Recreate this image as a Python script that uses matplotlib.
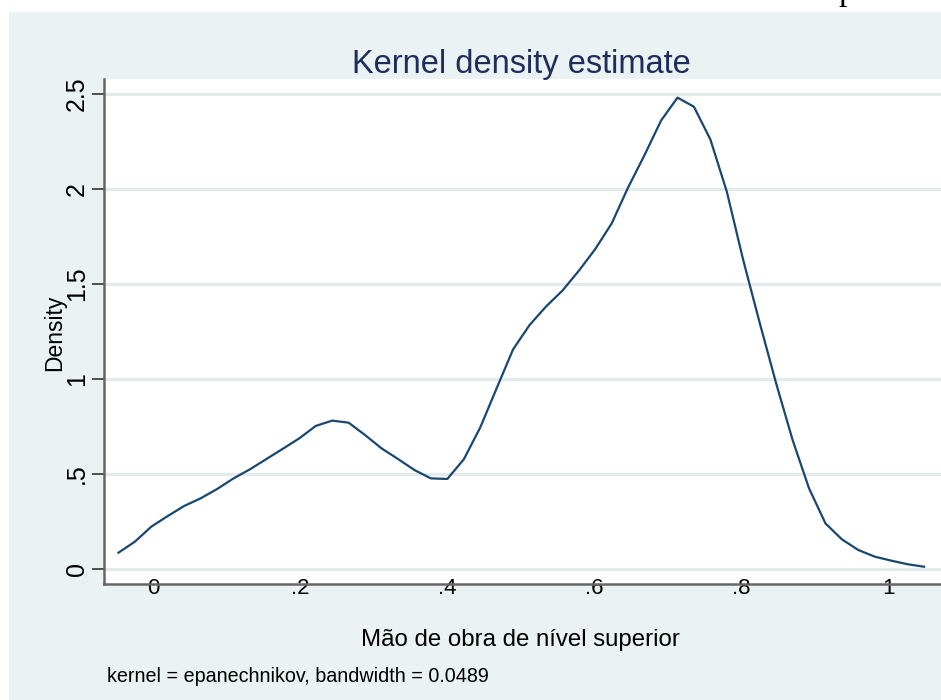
import matplotlib
matplotlib.use("Agg")
import matplotlib.pyplot as plt
from matplotlib.patches import Rectangle

plt.rcParams['font.family'] = ['Liberation Sans', 'DejaVu Sans']

# kernel density estimate, 50 evaluation points
grid_x = [-0.0470, -0.0246, -0.0023, 0.0201, 0.0425, 0.0648, 0.0872, 0.1096, 0.1320, 0.1543,
          0.1767, 0.1991, 0.2214, 0.2438, 0.2662, 0.2885, 0.3109, 0.3333, 0.3557, 0.3780,
          0.4004, 0.4228, 0.4451, 0.4675, 0.4899, 0.5123, 0.5346, 0.5570, 0.5794, 0.6017,
          0.6241, 0.6465, 0.6688, 0.6912, 0.7136, 0.7359, 0.7583, 0.7807, 0.8030, 0.8254,
          0.8478, 0.8702, 0.8925, 0.9149, 0.9373, 0.9596, 0.9820, 1.0044, 1.0268, 1.0491]
density = [0.086, 0.144, 0.223, 0.279, 0.332, 0.372, 0.421, 0.477, 0.525, 0.579,
           0.633, 0.688, 0.753, 0.781, 0.770, 0.705, 0.635, 0.579, 0.521, 0.477,
           0.474, 0.577, 0.744, 0.951, 1.156, 1.284, 1.381, 1.465, 1.570, 1.684,
           1.819, 2.009, 2.179, 2.360, 2.481, 2.433, 2.261, 1.986, 1.626, 1.296,
           0.977, 0.679, 0.425, 0.240, 0.156, 0.100, 0.065, 0.044, 0.025, 0.012]

xticks = [0, 0.2, 0.4, 0.6, 0.8, 1.0]
xtick_labels = ['0', '.2', '.4', '.6', '.8', '1']
yticks = [0, 0.5, 1, 1.5, 2, 2.5]
ytick_labels = ['0', '.5', '1', '1.5', '2', '2.5']

bg = '#EAF2F3'
W, H = 941, 700

fig = plt.figure(figsize=(W / 100, H / 100), dpi=100, facecolor='white')
fig.patches.append(Rectangle((9 / W, 0), 1 - 9 / W, 1 - 12 / H, transform=fig.transFigure,
                             facecolor=bg, edgecolor='none', zorder=-10))
# cut-off glyph at the very top of the original screenshot
fig.text(838 / W, 1.0, 'p', family='Liberation Serif', fontsize=24, va='baseline')

ax = fig.add_axes([104 / W, (700 - 584) / H, (941 - 104) / W, (584 - 79) / H])
ax.set_zorder(1)
ax.set_facecolor('white')
ax.plot(grid_x, density, color='#1A476F', linewidth=1.6, zorder=3)

ax.set_xlim(-0.0667, 1.0721)
ax.set_ylim(-0.0789, 2.5789)

ax.set_yticks(yticks)
ax.set_yticklabels(ytick_labels, rotation=90, va='center', fontsize=18)
ax.set_xticks(xticks)
ax.set_xticklabels(xtick_labels, fontsize=16)
ax.tick_params(axis='y', length=9, width=1.2, color='#333333', pad=2)
ax.tick_params(axis='x', length=0, pad=-4)

ax.grid(axis='y', color='#E2ECEE', linewidth=2.2, zorder=1)
ax.set_axisbelow(True)

for side in ['top', 'right']:
    ax.spines[side].set_visible(False)
for side in ['left', 'bottom']:
    ax.spines[side].set_color('#666666')
    ax.spines[side].set_linewidth(1.8)
    ax.spines[side].set_zorder(4)

fig.text(521 / W, 1 - 64 / H, 'Kernel density estimate', ha='center', va='center',
         fontsize=23.5, color='#1F2D5C')
fig.text(55 / W, 1 - 333 / H, 'Density', rotation=90, ha='center', va='center', fontsize=16.5)
fig.text(520 / W, 1 - 640 / H, 'Mão de obra de nível superior', ha='center', va='center',
         fontsize=17.3)
fig.text(107 / W, 1 - 676 / H, 'kernel = epanechnikov, bandwidth = 0.0489', ha='left',
         va='center', fontsize=14.2)

fig.savefig('out.png', dpi=100, facecolor='white')
